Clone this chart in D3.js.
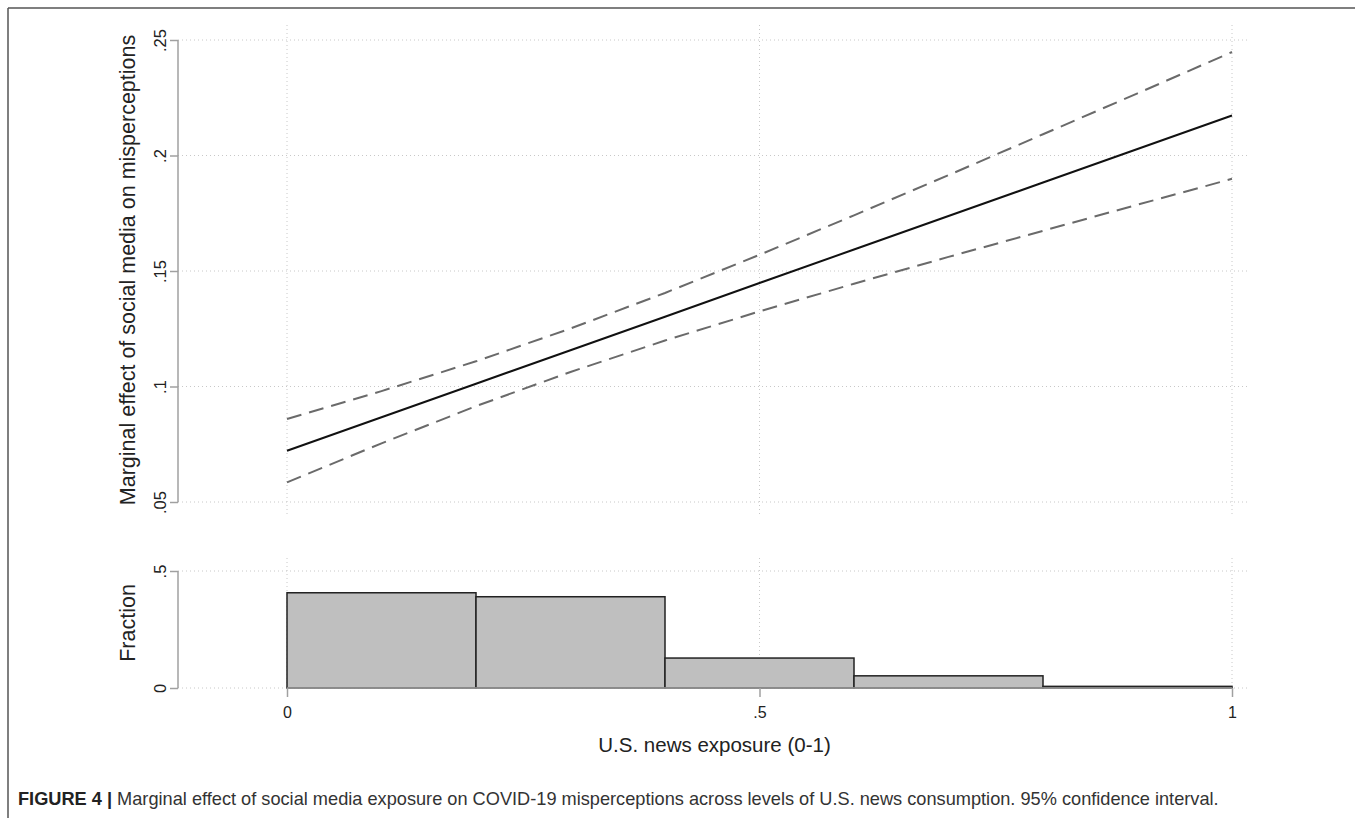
<!DOCTYPE html>
<html><head><meta charset="utf-8">
<script src="https://cdn.jsdelivr.net/npm/d3@7"></script>
<style>
html,body{margin:0;padding:0;background:#fff;}
svg{display:block;font-family:"Liberation Sans",Arial,Helvetica,sans-serif;}
</style></head>
<body>
<svg id="chart" width="1355" height="818"></svg>
<script>
// ---- data ----
const newsLevels = [0, 0.1, 0.2, 0.3, 0.4, 0.5, 0.6, 0.7, 0.8, 0.9, 1];
const marginalEffect = [0.0722, 0.0867, 0.1012, 0.1157, 0.1302, 0.1448, 0.1593, 0.1738, 0.1883, 0.2028, 0.2173];
const ciUpper = [0.0859, 0.0980, 0.1109, 0.1251, 0.1405, 0.1570, 0.1741, 0.1915, 0.2092, 0.2269, 0.2448];
const ciLower = [0.0585, 0.0754, 0.0915, 0.1063, 0.1199, 0.1325, 0.1445, 0.1561, 0.1674, 0.1787, 0.1899];
const binStarts = [0, 0.2, 0.4, 0.6, 0.8];
const binEnds = [0.2, 0.4, 0.6, 0.8, 1.0];
const fractions = [0.407, 0.390, 0.128, 0.052, 0.007];
const yTicksTop = [0.05, 0.1, 0.15, 0.2, 0.25];
const yTickLabelsTop = [".05", ".1", ".15", ".2", ".25"];
const yTicksHist = [0, 0.5];
const yTickLabelsHist = ["0", ".5"];
const xTicks = [0, 0.5, 1];
const xTickLabels = ["0", ".5", "1"];
const yTitleTop = "Marginal effect of social media on misperceptions";
const yTitleHist = "Fraction";
const xTitle = "U.S. news exposure (0-1)";
const captionBold = "FIGURE 4 |";
const captionText = " Marginal effect of social media exposure on COVID-19 misperceptions across levels of U.S. news consumption. 95% confidence interval.";

// ---- layout ----
const svg = d3.select("#chart");
const axisX = 178, plotRight = 1247;
const topRegion = [25, 515], histRegion = [558, 688];
const x = d3.scaleLinear().domain([0, 1]).range([287, 1232]);
const yTop = d3.scaleLinear().domain([0.05, 0.25]).range([502, 40]);
const yHist = d3.scaleLinear().domain([0, 0.5]).range([688, 571]);
const gridColor = "#c8c8c8", axisColor = "#a0a0a0", textColor = "#222";

// frame
svg.append("line").attr("x1", 8).attr("y1", 8).attr("x2", 1355).attr("y2", 8)
  .attr("stroke", "#555").attr("stroke-width", 1.5);
svg.append("line").attr("x1", 8).attr("y1", 8).attr("x2", 8).attr("y2", 818)
  .attr("stroke", "#555").attr("stroke-width", 1.5);

function grids(yScale, ticks, vTop, vBottom) {
  const g = svg.append("g");
  g.selectAll("line.h").data(ticks).join("line")
    .attr("x1", axisX).attr("x2", plotRight)
    .attr("y1", d => yScale(d)).attr("y2", d => yScale(d))
    .attr("stroke", gridColor).attr("stroke-width", 1).attr("stroke-dasharray", "1,3");
  g.selectAll("line.v").data(xTicks).join("line")
    .attr("x1", d => x(d)).attr("x2", d => x(d))
    .attr("y1", vTop).attr("y2", vBottom)
    .attr("stroke", gridColor).attr("stroke-width", 1).attr("stroke-dasharray", "1,3");
}
grids(yTop, yTicksTop, topRegion[0], topRegion[1]);
grids(yHist, yTicksHist, histRegion[0], histRegion[1]);

function yAxis(yScale, ticks, labels) {
  const ax = d3.axisLeft(yScale).tickValues(ticks).tickSize(8).tickPadding(0)
    .tickFormat((d, i) => labels[i]);
  const g = svg.append("g").attr("transform", `translate(${axisX},0)`).call(ax);
  g.select(".domain").attr("stroke", axisColor).attr("stroke-width", 1.5)
    .attr("d", `M0,${yScale.range()[0]}V${yScale.range()[1]}`);
  g.selectAll(".tick line").attr("stroke", axisColor).attr("stroke-width", 1.5);
  g.selectAll(".tick text")
    .attr("transform", "translate(-12,0) rotate(-90)")
    .attr("x", 0).attr("dy", 0)
    .attr("text-anchor", "middle")
    .attr("fill", textColor).attr("font-size", 16.5)
    .attr("font-family", '"Liberation Sans",Arial,sans-serif');
  return g;
}
yAxis(yTop, yTicksTop, yTickLabelsTop);
yAxis(yHist, yTicksHist, yTickLabelsHist);

// y titles (centred on each plot region)
svg.append("text").attr("transform", `translate(135,${(topRegion[0] + topRegion[1]) / 2}) rotate(-90)`)
  .attr("text-anchor", "middle").attr("font-size", 21.5).attr("fill", textColor).text(yTitleTop);
svg.append("text").attr("transform", `translate(135,${(histRegion[0] + histRegion[1]) / 2}) rotate(-90)`)
  .attr("text-anchor", "middle").attr("font-size", 21.5).attr("fill", textColor).text(yTitleHist);

// histogram bars
const bins = binStarts.map((s, i) => ({s, e: binEnds[i], v: fractions[i]}));
svg.append("g").selectAll("rect").data(bins).join("rect")
  .attr("x", d => x(d.s)).attr("width", d => x(d.e) - x(d.s))
  .attr("y", d => yHist(d.v)).attr("height", d => yHist(0) - yHist(d.v))
  .attr("fill", "#bfbfbf").attr("stroke", "#222").attr("stroke-width", 1.5);

// x axis
const xa = d3.axisBottom(x).tickValues(xTicks).tickSize(9).tickPadding(10)
  .tickFormat((d, i) => xTickLabels[i]);
const gx = svg.append("g").attr("transform", `translate(0,${yHist(0)})`).call(xa);
gx.select(".domain").attr("stroke", axisColor).attr("stroke-width", 1.5)
  .attr("d", `M${x(0)},0H${x(1)}`);
gx.selectAll(".tick line").attr("stroke", axisColor).attr("stroke-width", 1.5);
gx.selectAll(".tick text").attr("fill", textColor).attr("font-size", 16)
  .attr("font-family", '"Liberation Sans",Arial,sans-serif');
svg.append("text").attr("x", (axisX + plotRight) / 2 + 2).attr("y", 752).attr("text-anchor", "middle")
  .attr("font-size", 20.5).attr("fill", textColor).text(xTitle);

// lines
const pts = arr => newsLevels.map((u, i) => [u, arr[i]]);
const line = d3.line().x(d => x(d[0])).y(d => yTop(d[1]));
svg.append("path").datum(pts(ciUpper)).attr("d", line).attr("fill", "none")
  .attr("stroke", "#6a6a6a").attr("stroke-width", 2).attr("stroke-dasharray", "15,8");
svg.append("path").datum(pts(ciLower)).attr("d", line).attr("fill", "none")
  .attr("stroke", "#6a6a6a").attr("stroke-width", 2).attr("stroke-dasharray", "15,8");
svg.append("path").datum(pts(marginalEffect)).attr("d", line).attr("fill", "none")
  .attr("stroke", "#111").attr("stroke-width", 2);

// caption
const cap = svg.append("text").attr("x", 18).attr("y", 805).attr("font-size", 18.2).attr("fill", "#333");
cap.append("tspan").attr("font-weight", "bold").attr("fill", "#222").text(captionBold);
cap.append("tspan").text(captionText);
</script>
</body></html>
